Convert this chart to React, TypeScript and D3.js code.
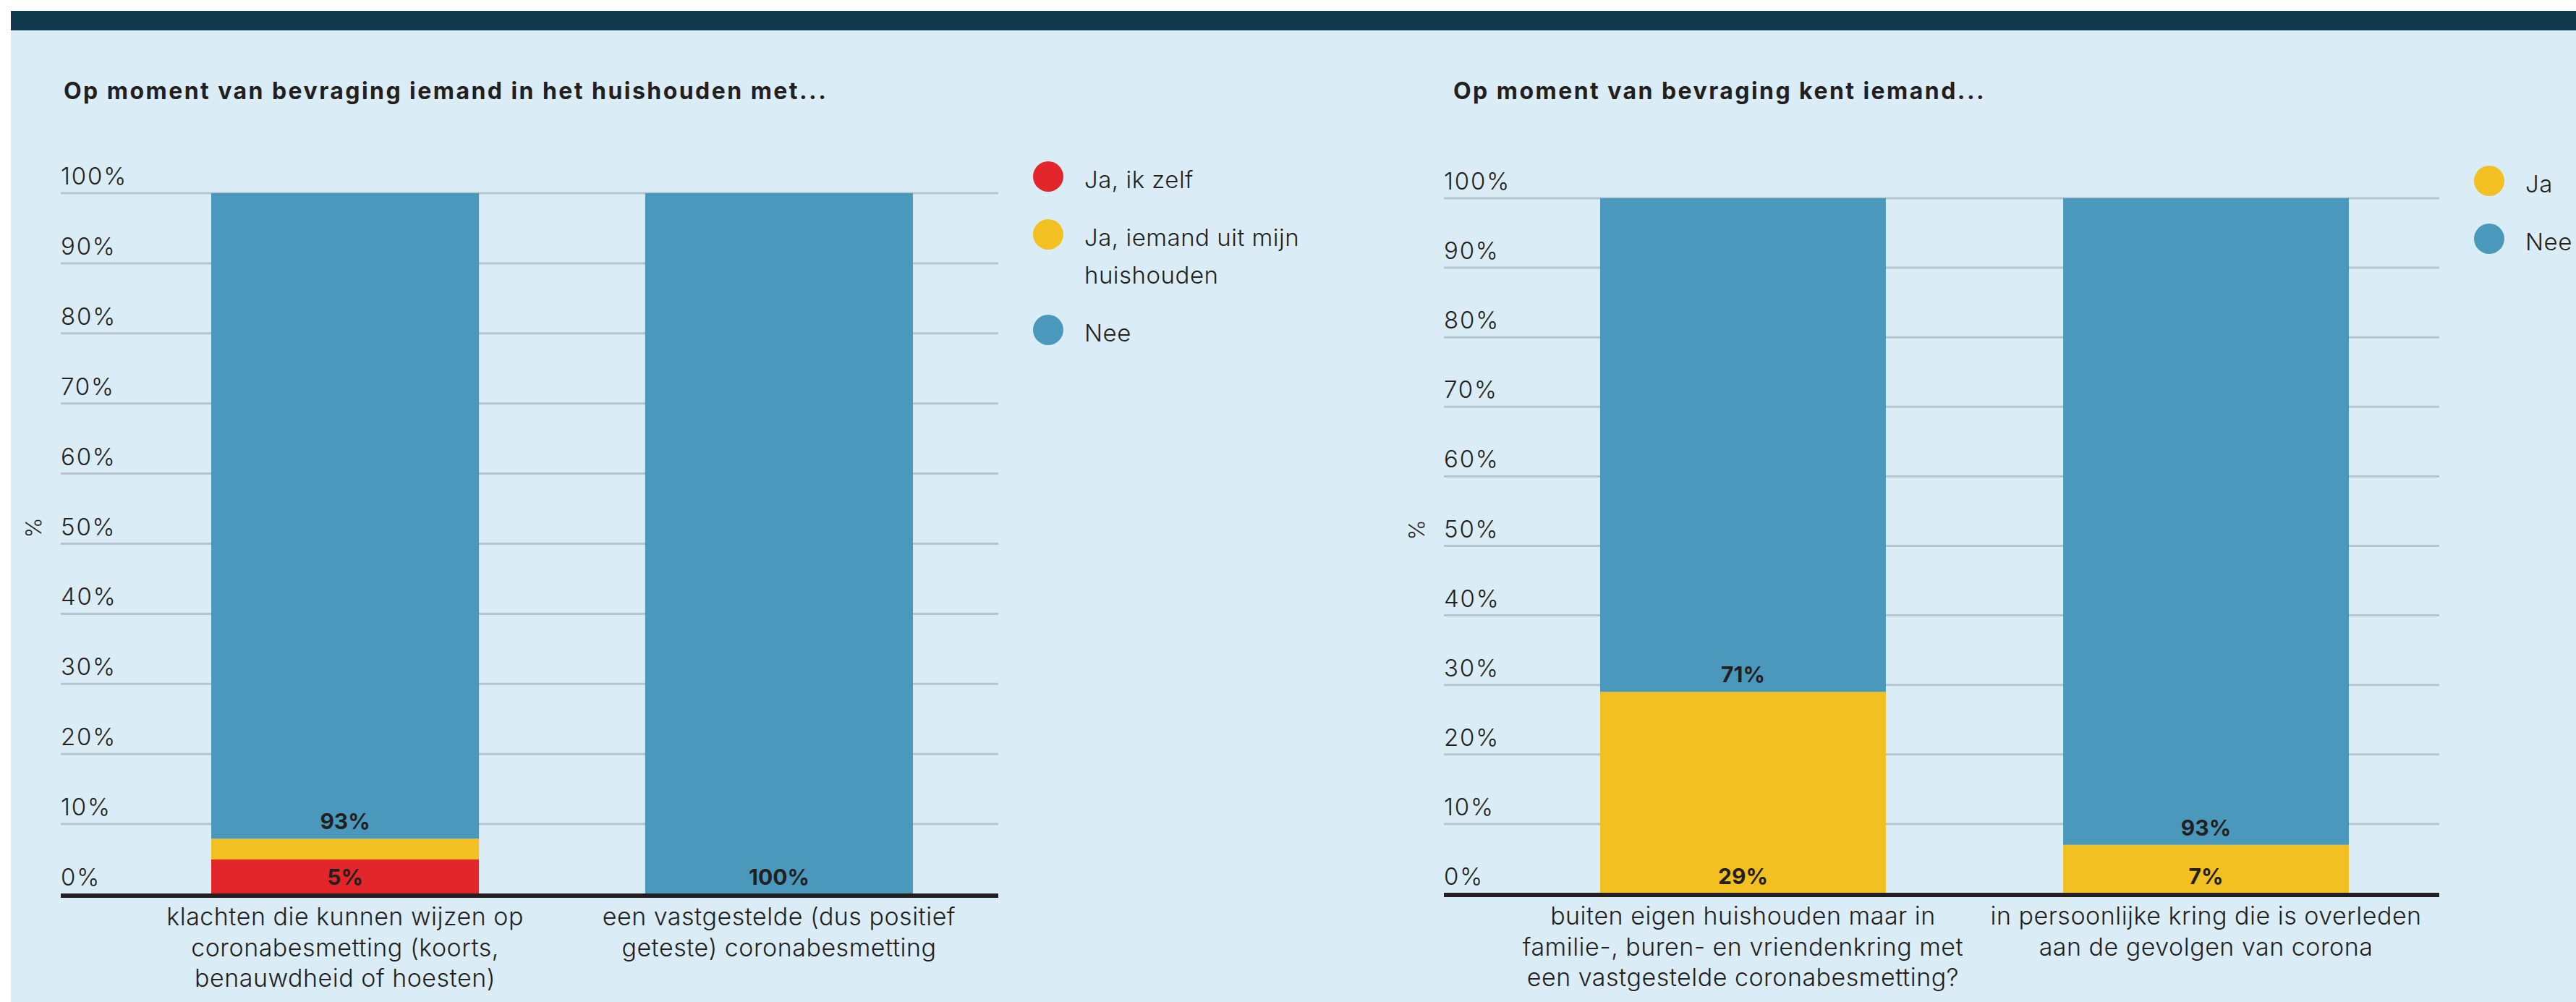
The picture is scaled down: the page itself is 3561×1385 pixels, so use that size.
import * as d3 from 'd3';
import * as React from 'react';

// ---- data ----
const leftTitle = 'Op moment van bevraging iemand in het huishouden met...';
const leftCategories = [
  ['klachten die kunnen wijzen op', 'coronabesmetting (koorts,', 'benauwdheid of hoesten)'],
  ['een vastgestelde (dus positief', 'geteste) coronabesmetting'],
];
const leftKeys = ['jaZelf', 'jaHuishouden', 'nee'];
const leftLegend = [['Ja, ik zelf'], ['Ja, iemand uit mijn', 'huishouden'], ['Nee']];
const leftJaZelf = [5, 0];
const leftJaHuishouden = [3, 0];
const leftNee = [93, 100];

const rightTitle = 'Op moment van bevraging kent iemand...';
const rightCategories = [
  ['buiten eigen huishouden maar in', 'familie-, buren- en vriendenkring met', 'een vastgestelde coronabesmetting?'],
  ['in persoonlijke kring die is overleden', 'aan de gevolgen van corona'],
];
const rightKeys = ['ja', 'nee'];
const rightLegend = [['Ja'], ['Nee']];
const rightJa = [29, 7];
const rightNee = [71, 93];

const yTicks = [0, 10, 20, 30, 40, 50, 60, 70, 80, 90, 100];

const RED = '#e3262a';
const YELLOW = '#f2c020';
const BLUE = '#4a99bc';
const BG = '#daecf6';
const DARK = '#113a4f';
const GRID = '#b5c4cf';
const INK = '#231f20';
const FONT = 'Inter, "Noto Sans", sans-serif';

type Row = { [k: string]: number | string };

type PanelProps = {
  title: string;
  categories: string[][];
  keys: string[];
  colors: string[];
  rows: Row[];
  legend: string[][];
  left: number;
  right: number;
  bandStart: number;
  bandEnd: number;
  y0: number;
  y100: number;
  titleX: number;
  pctX: number;
  legendX: number;
  legendY: number;
};

const Panel = (p: PanelProps) => {
  const x = d3
    .scaleBand<number>()
    .domain(d3.range(p.categories.length))
    .range([p.bandStart, p.bandEnd])
    .paddingInner(0.383)
    .paddingOuter(0);
  const y = d3.scaleLinear().domain([0, 100]).range([p.y0, p.y100]);
  const series = d3.stack<Row>().keys(p.keys).offset(d3.stackOffsetExpand)(p.rows);

  // legend rows: each item advances 80px plus 52px per extra line
  let ly = p.legendY;
  const legendItems = p.legend.map((lines, i) => {
    const item = { lines, cy: ly, color: p.colors[i] };
    ly += 80 + (lines.length - 1) * 52;
    return item;
  });

  return (
    <g>
      <text
        x={p.titleX}
        y={137}
        fontFamily={FONT}
        fontWeight={700}
        fontSize={32}
        letterSpacing={2.45}
        fill={INK}
      >
        {p.title}
      </text>
      <text
        transform={`translate(${p.pctX},${(p.y0 + p.y100) / 2 - 22}) rotate(-90)`}
        textAnchor="middle"
        dominantBaseline="central"
        fontFamily={FONT}
        fontWeight={300}
        fontSize={30}
        fill={INK}
      >
        %
      </text>
      {yTicks.map((t) => (
        <g key={t}>
          {t > 0 && (
            <line x1={p.left} x2={p.right} y1={y(t)} y2={y(t)} stroke={GRID} strokeWidth={3} />
          )}
          <text
            x={p.left}
            y={y(t) - 12}
            fontFamily={FONT}
            fontWeight={300}
            fontSize={33}
            letterSpacing={1.8}
            fill={INK}
          >
            {t}%
          </text>
        </g>
      ))}
      {series.map((s, si) => (
        <g key={s.key} fill={p.colors[si]}>
          {s.map((d, i) => (
            <rect
              key={i}
              x={x(i)}
              width={x.bandwidth()}
              y={y(d[1] * 100)}
              height={y(d[0] * 100) - y(d[1] * 100)}
            />
          ))}
        </g>
      ))}
      {series.map((s) =>
        s.map((d, i) => {
          const v = +p.rows[i][s.key];
          if (v < 5) return null;
          return (
            <text
              key={s.key + i}
              x={(x(i) ?? 0) + x.bandwidth() / 2}
              y={y(d[0] * 100) - 13}
              textAnchor="middle"
              fontFamily={FONT}
              fontWeight={700}
              fontSize={30}
              fill={INK}
            >
              {v}%
            </text>
          );
        }),
      )}
      <line x1={p.left} x2={p.right} y1={p.y0 + 2} y2={p.y0 + 2} stroke={INK} strokeWidth={6} />
      {p.categories.map((lines, i) => (
        <text
          key={i}
          x={(x(i) ?? 0) + x.bandwidth() / 2}
          textAnchor="middle"
          fontFamily={FONT}
          fontWeight={300}
          fontSize={34}
          letterSpacing={0.5}
          fill={INK}
        >
          {lines.map((l, li) => (
            <tspan key={li} x={(x(i) ?? 0) + x.bandwidth() / 2} y={p.y0 + 43 + li * 42.5}>
              {l}
            </tspan>
          ))}
        </text>
      ))}
      {legendItems.map((it, i) => (
        <g key={i}>
          <circle cx={p.legendX} cy={it.cy} r={21} fill={it.color} />
          <text fontFamily={FONT} fontWeight={300} fontSize={33} letterSpacing={0.5} fill={INK}>
            {it.lines.map((l, li) => (
              <tspan key={li} x={p.legendX + 50} y={it.cy + 16 + li * 52}>
                {l}
              </tspan>
            ))}
          </text>
        </g>
      ))}
    </g>
  );
};

export default function App() {
  const W = 3561;
  const H = 1385;
  const leftRows: Row[] = leftCategories.map((_, i) => ({
    jaZelf: leftJaZelf[i],
    jaHuishouden: leftJaHuishouden[i],
    nee: leftNee[i],
  }));
  const rightRows: Row[] = rightCategories.map((_, i) => ({
    ja: rightJa[i],
    nee: rightNee[i],
  }));

  return (
    <svg
      width={W}
      height={H}
      style={{ position: 'absolute', top: 0, left: 0, display: 'block' }}
    >
      <rect width={W} height={H} fill="#ffffff" />
      <rect x={15} y={42} width={W - 15} height={H - 42} fill={BG} />
      <rect x={15} y={15} width={W - 15} height={27} fill={DARK} />
      <Panel
        title={leftTitle}
        categories={leftCategories}
        keys={leftKeys}
        colors={[RED, YELLOW, BLUE]}
        rows={leftRows}
        legend={leftLegend}
        left={84}
        right={1380}
        bandStart={292}
        bandEnd={1262}
        y0={1236}
        y100={267}
        titleX={88}
        pctX={46}
        legendX={1449}
        legendY={244}
      />
      <Panel
        title={rightTitle}
        categories={rightCategories}
        keys={rightKeys}
        colors={[YELLOW, BLUE]}
        rows={rightRows}
        legend={rightLegend}
        left={1996}
        right={3372}
        bandStart={2212}
        bandEnd={3247}
        y0={1235}
        y100={274}
        titleX={2009}
        pctX={1958}
        legendX={3441}
        legendY={250}
      />
    </svg>
  );
}
